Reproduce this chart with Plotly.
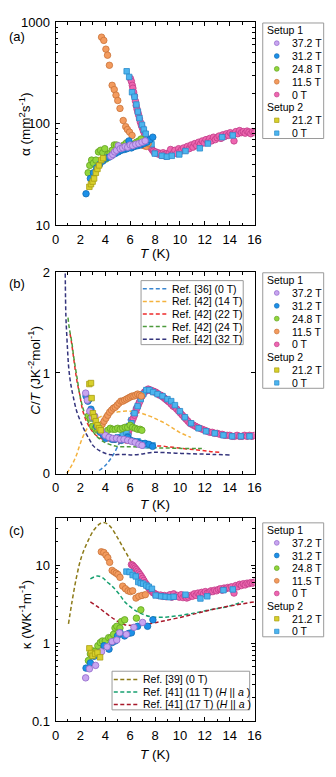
import plotly.graph_objects as go

W, H = 336, 777
def fx(p): return p / W
def fy(p): return 1 - p / H

# ---------------- Panel (a): thermal diffusivity alpha (mm^2/s) ----------------
T_a_372 = [4.45, 4.6, 4.75, 4.9, 5.05, 5.2, 5.4, 5.6, 5.8, 6.0, 6.2, 6.45, 6.7, 6.95, 7.2]
a_372 = [48, 50, 53, 55, 61, 57, 58, 60, 59, 62, 61, 63, 64, 66, 68]
T_a_312 = [2.45, 2.8, 3.05, 3.3, 3.55, 3.8, 4.05, 4.3, 4.55, 4.8, 5.05, 5.3, 5.55, 5.75, 5.9, 6.1, 6.35, 6.6, 6.85, 7.1, 7.35, 7.6, 7.82]
a_312 = [20.5, 29, 33, 37, 40, 43, 46, 47, 49, 51, 53, 55, 56, 57, 68, 58, 60, 61, 62, 64, 66, 70, 74]
T_a_248 = [2.62, 2.75, 2.9, 3.05, 3.25, 3.45, 3.62, 3.8, 3.96, 4.05, 4.2, 4.38, 4.55, 4.72, 4.9, 5.05, 5.2, 5.35, 5.5, 5.7, 5.9, 6.1, 6.3, 6.5, 6.7, 6.88]
a_248 = [33, 39, 44, 41, 44, 53, 55, 52, 57, 45, 50, 51, 55, 62, 62, 56, 55, 58, 62, 65, 61, 60, 63, 66, 68, 71]
T_a_115 = [3.7, 3.88, 4.05, 4.18, 4.33, 4.55, 4.72, 4.86, 5.0, 5.18, 5.44, 5.64, 5.78, 5.95, 6.15, 6.3, 6.5, 6.7, 6.9, 7.1, 7.3, 7.45]
a_115 = [715, 665, 545, 475, 378, 240, 218, 192, 170, 142, 108, 94, 88, 83, 77, 60, 62, 64, 63, 61, 60, 64]
T_a_0 = [6.02, 6.1, 6.17, 6.22, 6.28, 6.35, 6.42, 6.48, 6.55, 6.62, 6.68, 6.75, 6.82, 6.9, 6.97,
         7.05, 7.12, 7.2, 7.28, 7.35, 7.42, 7.5, 7.58, 7.65, 7.72, 7.8, 7.88, 7.95, 8.05, 8.15,
         8.25, 8.35, 8.45, 8.55, 8.65, 8.75, 8.85, 8.95, 9.05, 9.15, 9.25, 9.35, 9.5, 9.6, 9.75,
         9.9, 10.0, 10.15, 10.3, 10.45, 10.6, 10.75, 10.9, 11.05, 11.2, 11.35, 11.5, 11.65, 11.8,
         11.95, 12.1, 12.25, 12.4, 12.55, 12.7, 12.85, 13.0, 13.15, 13.3, 13.45, 13.6, 13.75,
         13.9, 14.05, 14.2, 14.35, 14.5, 14.65, 14.8, 14.95, 15.1, 15.25, 15.4, 15.55, 15.7,
         15.85, 16.0]
a_0 = [280, 262, 240, 225, 205, 188, 168, 152, 140, 130, 122, 112, 104, 97, 92,
       86, 82, 78, 74, 71, 68, 65, 62, 59, 57, 55, 54, 52, 53, 51,
       52, 50, 51, 49, 52, 50, 48, 51, 49, 52, 56, 50, 52, 55, 51,
       57, 53, 56, 58, 55, 60, 57, 62, 59, 64, 61, 66, 63, 68,
       65, 70, 67, 72, 68, 74, 70, 73, 76, 72, 78, 75, 80,
       77, 82, 79, 68, 84, 80, 86, 82, 84, 81, 85, 83, 80,
       84, 82]
T_a_212 = [2.72, 2.85, 2.98, 3.1, 3.24, 3.37, 3.5, 3.68, 3.83]
a_212 = [24, 25.5, 27, 29, 33, 36, 39, 44, 46]
T_a_0s = [5.72, 5.92, 6.15, 6.35, 6.5, 6.62, 6.75, 6.95, 7.1, 7.25, 7.42, 7.55, 7.72, 7.98, 8.55,
          8.95, 9.35, 9.95, 10.45, 11.6, 12.25, 13.4, 14.25]
a_0s = [330, 290, 205, 185, 155, 132, 114, 98, 88, 80, 70, 66, 63, 51, 48.5,
        47.5, 48.5, 50, 54, 57.5, 64, 74, 77]

# ---------------- Panel (b): C/T (J K^-2 mol^-1) ----------------
T_b_372 = [2.42, 2.55, 2.75, 2.95, 3.15, 3.4, 3.7, 4.0, 4.3, 4.6, 4.9, 5.2, 5.5, 5.8, 6.1, 6.4, 6.7, 6.95]
b_372 = [0.80, 0.73, 0.62, 0.56, 0.57, 0.47, 0.42, 0.38, 0.36, 0.35, 0.35, 0.34, 0.34, 0.33, 0.32, 0.31, 0.29, 0.28]
T_b_312 = [2.45, 2.6, 2.7, 2.85, 3.05, 3.3, 3.6, 3.85, 4.05, 4.3, 4.55, 4.8, 5.05, 5.3, 5.55, 5.8,
           6.05, 6.3, 6.6, 6.9, 7.2, 7.5, 7.8]
b_312 = [0.77, 0.72, 0.74, 0.64, 0.55, 0.47, 0.41, 0.38, 0.35, 0.36, 0.34, 0.34, 0.35, 0.33, 0.34, 0.36,
         0.33, 0.32, 0.31, 0.30, 0.30, 0.29, 0.27]
T_b_248 = [2.64, 2.8, 2.98, 3.2, 3.4, 3.6, 3.8, 4.0, 4.2, 4.4, 4.6, 4.8, 5.0, 5.2, 5.4, 5.6, 5.8,
           6.0, 6.2, 6.4, 6.6, 6.8, 6.94]
b_248 = [0.57, 0.55, 0.47, 0.45, 0.43, 0.42, 0.40, 0.41, 0.43, 0.45, 0.44, 0.44, 0.45, 0.44, 0.45, 0.46, 0.46,
         0.48, 0.46, 0.45, 0.44, 0.44, 0.43]
T_b_115 = [3.62, 3.75, 3.9, 4.05, 4.2, 4.35, 4.5, 4.65, 4.8, 4.95, 5.1, 5.25, 5.4, 5.55, 5.7, 5.85,
           6.0, 6.15, 6.3, 6.45, 6.6, 6.75, 6.9]
b_115 = [0.45, 0.49, 0.52, 0.55, 0.58, 0.61, 0.63, 0.65, 0.66, 0.68, 0.70, 0.72, 0.72, 0.73, 0.74, 0.75,
         0.76, 0.77, 0.77, 0.78, 0.79, 0.78, 0.77]
T_b_0 = [5.75, 5.85, 5.95, 6.05, 6.15, 6.25, 6.35, 6.45, 6.55, 6.65, 6.75, 6.85, 6.95, 7.05, 7.15, 7.25,
         7.35, 7.45, 7.55, 7.65,
         7.75, 7.85, 7.95, 8.05, 8.15, 8.25, 8.35, 8.45, 8.55, 8.65, 8.75, 8.85, 8.95, 9.05, 9.15,
         9.3, 9.45, 9.6, 9.75, 9.9, 10.05, 10.2, 10.35, 10.5, 10.65, 10.8, 10.95, 11.1, 11.25, 11.4,
         11.6, 11.8, 12.0, 12.2, 12.4, 12.6, 12.8, 13.0, 13.2, 13.4, 13.6, 13.8, 14.0, 14.2, 14.4,
         14.6, 14.8, 15.0, 15.2, 15.4, 15.6, 15.8, 16.0]
b_0 = [0.36, 0.40, 0.44, 0.48, 0.52, 0.55, 0.58, 0.62, 0.65, 0.68, 0.71, 0.75, 0.77, 0.79, 0.81, 0.82,
       0.83, 0.84, 0.83, 0.83,
       0.82, 0.82, 0.81, 0.81, 0.80, 0.79, 0.78, 0.78, 0.77, 0.76, 0.75, 0.74, 0.73, 0.72, 0.71,
       0.69, 0.67, 0.66, 0.64, 0.62, 0.60, 0.58, 0.56, 0.54, 0.52, 0.50, 0.49, 0.48, 0.47, 0.46,
       0.45, 0.44, 0.43, 0.42, 0.41, 0.41, 0.40, 0.40, 0.39, 0.39, 0.38, 0.38, 0.38, 0.37, 0.37,
       0.38, 0.37, 0.37, 0.38, 0.37, 0.38, 0.37, 0.38]
T_b_212 = [2.72, 2.85, 2.9, 3.0, 3.1, 3.24, 3.37, 3.5, 3.63]
b_212 = [0.89, 0.90, 0.75, 0.60, 0.56, 0.52, 0.48, 0.45, 0.43]
T_b_0s = [3.9, 4.2, 4.6, 5.0, 5.4, 5.7, 5.85, 6.6, 7.25, 7.8, 6.1, 6.35, 6.6, 6.85, 7.05, 7.3, 7.55,
          7.85, 8.2, 8.6, 9.0, 9.3, 9.6, 10.0, 10.4, 10.9, 11.5, 12.1, 12.8, 13.5, 14.2, 14.9, 15.6]
b_0s = [0.38, 0.36, 0.35, 0.36, 0.38, 0.41, 0.37, 0.32, 0.28, 0.28, 0.50, 0.60, 0.67, 0.74, 0.79, 0.83, 0.83,
        0.81, 0.79, 0.77, 0.74, 0.72, 0.68, 0.62, 0.56, 0.50, 0.45, 0.42, 0.40, 0.38, 0.37, 0.37, 0.37]

# reference curves (b)
T_r36 = [3.5, 4.0, 4.5, 5.0, 5.45, 5.9, 6.3, 6.7, 7.1, 7.5, 7.9, 8.4, 9.0, 9.6, 10.2, 10.8, 11.5, 12.3, 13.2, 14.2, 15.2, 16.0]
r36 = [0.03, 0.08, 0.16, 0.27, 0.40, 0.55, 0.66, 0.75, 0.81, 0.83, 0.82, 0.78, 0.72, 0.65, 0.58, 0.51, 0.46, 0.42, 0.40, 0.38, 0.37, 0.37]
T_r42_14 = [0.9, 1.15, 1.42, 1.7, 1.94, 2.25, 2.6, 3.0, 3.37, 3.9, 4.4, 4.9, 5.44, 6.0, 6.48, 6.9, 7.25,
            7.8, 8.3, 8.8, 9.33, 9.97, 10.88]
r42_14 = [0.0, 0.05, 0.11, 0.19, 0.28, 0.38, 0.46, 0.52, 0.55, 0.58, 0.60, 0.61, 0.62, 0.62, 0.615, 0.60,
          0.585, 0.56, 0.53, 0.50, 0.46, 0.41, 0.36]
T_r42_22 = [1.17, 1.3, 1.42, 1.55, 1.68, 1.8, 1.94, 2.2, 2.6, 3.1, 3.63, 4.66, 6.22, 7.5, 8.8, 10.1, 11.4, 12.4, 13.26]
r42_22 = [1.39, 1.29, 1.18, 1.06, 0.95, 0.87, 0.79, 0.62, 0.49, 0.40, 0.35, 0.315, 0.30, 0.28, 0.27, 0.25, 0.235, 0.22, 0.21]
T_r42_24 = [1.0, 1.1, 1.3, 1.45, 1.6, 1.77, 1.94, 2.28, 2.72, 3.24, 3.89, 4.92, 6.22, 7.5, 8.8, 10.1, 11.4, 12.0]
r42_24 = [1.55, 1.45, 1.31, 1.17, 1.05, 0.92, 0.79, 0.62, 0.49, 0.38, 0.315, 0.27, 0.267, 0.257, 0.254, 0.25, 0.25, 0.25]
T_r42_32 = [0.78, 0.83, 0.9, 0.97, 1.04, 1.15, 1.28, 1.43, 1.7, 2.07, 2.4, 2.72, 3.0, 3.5, 4.3, 5.44, 6.22,
            7.0, 7.77, 8.8, 10.1, 11.4, 12.7, 14.0]
r42_32 = [1.99, 1.57, 1.38, 1.22, 1.08, 0.95, 0.85, 0.76, 0.62, 0.50, 0.41, 0.34, 0.28, 0.23, 0.19, 0.19, 0.185,
          0.195, 0.21, 0.208, 0.20, 0.195, 0.19, 0.185]

# ---------------- Panel (c): thermal conductivity kappa (W K^-1 m^-1) ----------------
T_c_372 = [2.42, 2.72, 3.22, 3.7, 4.15, 4.55, 4.92, 5.15, 5.7, 6.3, 7.0]
c_372 = [0.36, 0.47, 0.52, 0.78, 0.9, 1.05, 1.1, 1.36, 1.3, 1.6, 1.85]
T_c_312 = [2.45, 2.8, 3.1, 3.5, 3.9, 4.3, 4.55, 4.8, 4.98, 5.2, 5.55, 5.9, 6.1, 6.6, 7.4, 7.83]
c_312 = [0.48, 0.56, 0.68, 0.76, 0.93, 0.84, 1.02, 1.07, 1.24, 1.36, 1.24, 1.34, 1.36, 1.65, 1.65, 2.0]
T_c_248 = [2.64, 2.8, 2.98, 3.2, 3.4, 3.6, 3.76, 4.0, 4.27, 4.45, 4.66, 4.78, 4.92, 5.18, 5.3, 5.56, 6.5, 6.86]
c_248 = [0.60, 0.73, 0.80, 0.79, 0.93, 1.02, 1.07, 1.07, 1.18, 1.18, 1.30, 1.57, 1.65, 1.57, 1.90, 2.0, 2.1, 2.68]
T_c_115 = [3.68, 3.88, 4.05, 4.2, 4.35, 4.55, 4.72, 4.88, 5.02, 5.18, 5.4, 5.62, 5.83, 6.02, 6.2, 6.47, 6.7, 6.95, 7.22]
c_115 = [14.9, 14.6, 13.5, 12.5, 10.9, 8.6, 8.2, 7.9, 7.6, 7.0, 5.4, 5.0, 4.7, 4.6, 4.7, 3.8, 4.0, 4.1, 4.2]
T_c_0 = [6.1, 6.2, 6.3, 6.4, 6.5, 6.6, 6.7, 6.8, 6.9, 7.0, 7.1, 7.2, 7.3, 7.4, 7.5, 7.6, 7.7, 7.8, 7.9,
         8.0, 8.15, 8.3, 8.45, 8.6, 8.75, 8.9, 9.05, 9.2, 9.35, 9.5, 9.65, 9.8, 9.95, 10.1, 10.25, 10.4,
         10.55, 10.7, 10.85, 11.0, 11.15, 11.3, 11.45, 11.6, 11.75, 11.9, 12.05, 12.2, 12.35, 12.5, 12.65,
         12.8, 12.95, 13.1, 13.25, 13.4, 13.55, 13.7, 13.85, 14.0, 14.15, 14.35, 14.5, 14.65, 14.8, 14.95,
         15.1, 15.25, 15.4, 15.55, 15.7, 15.85, 16.0]
c_0 = [10.2, 10.0, 9.6, 9.2, 8.8, 8.4, 8.0, 7.6, 7.2, 6.8, 6.4, 6.0, 5.7, 5.4, 5.1, 4.9, 4.7, 4.5, 4.4,
       4.3, 4.2, 4.1, 4.15, 4.0, 4.1, 3.95, 4.05, 4.2, 3.9, 4.3, 4.0, 4.1, 3.9, 4.2, 3.85, 4.0,
       3.8, 3.9, 4.1, 4.0, 4.3, 4.1, 4.4, 4.2, 4.5, 4.3, 4.6, 4.4, 4.5, 4.7, 4.6,
       4.8, 4.7, 4.9, 5.0, 4.8, 5.1, 5.0, 5.2, 5.1, 5.3, 4.4, 5.5, 5.3, 5.7, 5.5,
       5.8, 5.6, 5.9, 5.8, 6.0, 5.9, 6.1]
T_c_212 = [2.72, 2.85, 2.98, 3.18, 3.37, 3.58]
c_212 = [0.86, 0.75, 0.69, 0.73, 0.76, 0.66]
T_c_0s = [5.7, 5.95, 6.2, 6.45, 6.65, 6.85, 7.05, 7.3, 7.5, 7.75, 8.05, 8.5, 8.85, 9.2, 9.5, 10.45, 11.65, 12.2, 13.5, 14.25]
c_0s = [8.3, 8.2, 7.5, 7.2, 6.1, 5.9, 5.8, 5.5, 5.3, 5.0, 4.1, 4.0, 3.95, 3.9, 3.95, 4.2, 3.75, 4.0, 4.8, 4.9]

# reference curves (c)
T_r39 = [1.04, 1.3, 1.68, 2.07, 2.6, 3.1, 3.63, 4.0, 4.4, 4.92, 5.44, 5.96, 6.48, 7.0, 7.5, 8.03, 8.8, 10.1, 11.4, 12.7, 14.0, 15.9]
r39 = [1.77, 3.24, 7.0, 12.6, 20.4, 28.5, 34.6, 35.0, 31.4, 23.5, 16.7, 12.0, 8.5, 6.4, 5.25, 4.55, 4.13, 4.0, 4.13, 4.55, 5.0, 5.8]
T_r41_11 = [2.8, 3.1, 3.4, 3.8, 4.15, 4.5, 4.8, 5.2, 5.56, 5.95, 6.34, 6.9, 7.6, 8.3, 9.0, 9.8, 10.9, 12.4, 14.0, 15.1]
r41_11 = [6.7, 7.1, 7.3, 6.9, 6.1, 5.5, 4.9, 4.1, 3.4, 3.0, 2.68, 2.4, 2.2, 2.15, 2.17, 2.25, 2.4, 2.68, 3.0, 3.45]
T_r41_17 = [2.8, 3.37, 3.88, 4.79, 5.56, 6.6, 7.9, 8.8, 10.1, 11.4, 12.7, 14.0, 16.0]
r41_17 = [3.4, 2.95, 2.55, 2.0, 1.73, 1.7, 1.82, 1.95, 2.16, 2.43, 2.73, 3.0, 3.4]

setup1_labels = ["37.2 T", "31.2 T", "24.8 T", "11.5 T", "0 T"]
setup2_labels = ["21.2 T", "0 T"]
refs_b_labels = ["Ref. [36] (0 T)", "Ref. [42] (14 T)", "Ref. [42] (22 T)", "Ref. [42] (24 T)", "Ref. [42] (32 T)"]
refs_c_labels = ["Ref. [39] (0 T)", "Ref. [41] (11 T) (<i>H</i> || <i>a</i> )", "Ref. [41] (17 T) (<i>H</i> || <i>a</i> )"]

# ---------------- styles ----------------
STY = {
    "372": dict(symbol="circle", fill="#c8a5f0", edge="#8f66c9", size=6.5),
    "312": dict(symbol="circle", fill="#1c90e8", edge="#106cb5", size=6.5),
    "248": dict(symbol="circle", fill="#92d63c", edge="#62a222", size=6.5),
    "115": dict(symbol="circle", fill="#f39b5e", edge="#c97238", size=6.5),
    "0":   dict(symbol="circle", fill="#ee66b0", edge="#c03c88", size=6.5),
    "212": dict(symbol="square", fill="#d8d02c", edge="#a89e12", size=5.5),
    "0s":  dict(symbol="square", fill="#4db4ee", edge="#2a8ccb", size=5.5),
}
REFB_COL = ["#3a86d0", "#f4b23e", "#ee2b2b", "#4d9a3c", "#34347c"]
REFC_COL = ["#8c7a18", "#17a070", "#a8182a"]
DASH = "4px,2.5px"
FONT = "Arial, 'Liberation Sans', Helvetica, sans-serif"

fig = go.Figure()

def add_pts(T, v, key, ax):
    st = STY[key]
    fig.add_trace(go.Scatter(
        x=T, y=v, mode="markers", xaxis="x" + ax, yaxis="y" + ax,
        marker=dict(symbol=st["symbol"], size=st["size"], color=st["fill"],
                    line=dict(color=st["edge"], width=0.8)),
        showlegend=False, hoverinfo="skip"))

def add_line(T, v, color, ax):
    fig.add_trace(go.Scatter(
        x=T, y=v, mode="lines", xaxis="x" + ax, yaxis="y" + ax,
        line=dict(color=color, width=1.5, dash=DASH, shape="spline"),
        showlegend=False, hoverinfo="skip"))

# panel (a)
add_pts(T_a_0, a_0, "0", "")
add_pts(T_a_0s, a_0s, "0s", "")
add_pts(T_a_115, a_115, "115", "")
add_pts(T_a_248, a_248, "248", "")
add_pts(T_a_312, a_312, "312", "")
add_pts(T_a_372, a_372, "372", "")
add_pts(T_a_212, a_212, "212", "")

# panel (b)
for (T, v), c in zip([(T_r36, r36), (T_r42_14, r42_14), (T_r42_22, r42_22), (T_r42_24, r42_24), (T_r42_32, r42_32)], REFB_COL):
    add_line(T, v, c, "2")
add_pts(T_b_0, b_0, "0", "2")
add_pts(T_b_0s, b_0s, "0s", "2")
add_pts(T_b_115, b_115, "115", "2")
add_pts(T_b_248, b_248, "248", "2")
add_pts(T_b_312, b_312, "312", "2")
add_pts(T_b_372, b_372, "372", "2")
add_pts(T_b_212, b_212, "212", "2")

# panel (c)
for (T, v), c in zip([(T_r39, r39), (T_r41_11, r41_11), (T_r41_17, r41_17)], REFC_COL):
    add_line(T, v, c, "3")
add_pts(T_c_0, c_0, "0", "3")
add_pts(T_c_0s, c_0s, "0s", "3")
add_pts(T_c_115, c_115, "115", "3")
add_pts(T_c_248, c_248, "248", "3")
add_pts(T_c_312, c_312, "312", "3")
add_pts(T_c_372, c_372, "372", "3")
add_pts(T_c_212, c_212, "212", "3")

# ---------------- axes ----------------
X0, X1 = 53.3, 259.0
PANELS = {"": (15.7, 222.7), "2": (270.7, 475.7), "3": (521.4, 728.3)}

def xaxis(anchor, top, bot):
    return dict(domain=[fx(X0), fx(X1)], anchor=anchor, range=[0, 16], dtick=2, tick0=0,
                ticks="inside", ticklen=4, tickwidth=1, tickcolor="black",
                showline=True, linecolor="black", linewidth=1, mirror="allticks",
                showgrid=False, zeroline=False, ticklabelstandoff=2,
                minor=dict(dtick=1, ticks="inside", ticklen=2.5, tickcolor="black", showgrid=False),
                tickfont=dict(size=13, color="black", family=FONT))

def yaxis_common(anchor, top, bot):
    return dict(domain=[fy(bot), fy(top)], anchor=anchor,
                ticks="inside", ticklen=4, tickwidth=1, tickcolor="black",
                showline=True, linecolor="black", linewidth=1, mirror="allticks",
                showgrid=False, zeroline=False, ticklabelstandoff=2,
                tickfont=dict(size=13, color="black", family=FONT))

minor_log_a = [m * 10 ** e for e in (1, 2) for m in range(2, 10)]
minor_log_c = [m * 10 ** e for e in (-1, 0, 1) for m in range(2, 10)]

ya = yaxis_common("x", *PANELS[""])
ya.update(type="log", range=[1, 3], tickvals=[10, 100, 1000], ticktext=["10", "100", "1000"],
          minor=dict(tickvals=minor_log_a, ticks="inside", ticklen=2.5, tickcolor="black", showgrid=False))
yb = yaxis_common("x2", *PANELS["2"])
yb.update(range=[0, 2], tickvals=[0, 1, 2], ticktext=["0", "1", "2"])
yc = yaxis_common("x3", *PANELS["3"])
yc.update(type="log", range=[-1, 1.6021], tickvals=[0.1, 1, 10], ticktext=["0.1", "1", "10"],
          minor=dict(tickvals=minor_log_c, ticks="inside", ticklen=2.5, tickcolor="black", showgrid=False))

# ---------------- annotations & legend shapes ----------------
ann = []
shapes = []

def text(x, y, s, size=13, xanchor="center", angle=0):
    ann.append(dict(x=fx(x), y=fy(y), xref="paper", yref="paper", text=s, showarrow=False,
                    xanchor=xanchor, yanchor="middle", textangle=angle,
                    font=dict(size=size, color="black", family=FONT)))

for lab, yy in [("(a)", 30), ("(b)", 282), ("(c)", 534)]:
    text(13, yy, lab, 13)
for yy in [251, 507, 762]:
    text(156, yy, "<i>T</i> (K)", 13.5)
text(21, 120, "α (mm<sup>2</sup>s<sup>-1</sup>)", 13.5, angle=-90)
text(31, 370, "<i>C</i>/<i>T</i> (JK<sup>-2</sup>mol<sup>-1</sup>)", 13.5, angle=-90)
text(22, 620, "κ (WK<sup>-1</sup>m<sup>-1</sup>)", 13.5, angle=-90)

def marker_shape(x, y, key, r=2.4):
    st = STY[key]
    shapes.append(dict(type="circle" if st["symbol"] == "circle" else "rect",
                       xref="paper", yref="paper", xsizemode="pixel", ysizemode="pixel",
                       xanchor=fx(x), yanchor=fy(y), x0=-r, x1=r, y0=-r, y1=r,
                       fillcolor=st["fill"], line=dict(color=st["edge"], width=0.7)))

def right_legend(top, step=13.1):
    shapes.append(dict(type="rect", xref="paper", yref="paper", x0=fx(267.5), x1=fx(330.5),
                       y0=fy(top + 8 * step + 13), y1=fy(top), fillcolor="white",
                       line=dict(color="#9a9a9a", width=1), layer="above"))
    rows = [top + 7.5 + step * i for i in range(9)]
    text(270, rows[0], "Setup 1", 10.5, xanchor="left")
    for lab, key, yy in zip(setup1_labels, ["372", "312", "248", "115", "0"], rows[1:6]):
        marker_shape(282, yy, key)
        text(296, yy, lab, 10.5, xanchor="left")
    text(270, rows[6], "Setup 2", 10.5, xanchor="left")
    for lab, key, yy in zip(setup2_labels, ["212", "0s"], rows[7:9]):
        marker_shape(282, yy, key, r=2.2)
        text(296, yy, lab, 10.5, xanchor="left")

right_legend(16.3)
right_legend(271.0)
right_legend(526.0, step=12.9)

def inner_legend(x0, x1, y0, y1, rows, labels, colors, lx0, lx1, tx):
    shapes.append(dict(type="rect", xref="paper", yref="paper", x0=fx(x0), x1=fx(x1),
                       y0=fy(y1), y1=fy(y0), fillcolor="white",
                       line=dict(color="#9a9a9a", width=1), layer="above"))
    for yy, lab, c in zip(rows, labels, colors):
        shapes.append(dict(type="line", xref="paper", yref="paper", x0=fx(lx0), x1=fx(lx1),
                           y0=fy(yy), y1=fy(yy), line=dict(color=c, width=1.5, dash=DASH), layer="above"))
        text(tx, yy, lab, 10.5, xanchor="left")

inner_legend(141.7, 247.3, 279.0, 344.3, [287.3, 300.2, 313.0, 325.9, 338.8], refs_b_labels, REFB_COL,
             143.5, 168.5, 171.5)
inner_legend(111.7, 254.0, 677.3, 716.7, [685.7, 698.4, 711.2], refs_c_labels, REFC_COL,
             113.5, 138.5, 141.5)

fig.update_layout(
    width=W, height=H, autosize=False,
    margin=dict(l=0, r=0, t=0, b=0, pad=0),
    paper_bgcolor="white", plot_bgcolor="white",
    font=dict(family=FONT, color="black"),
    showlegend=False,
    xaxis=xaxis("y", *PANELS[""]), yaxis=ya,
    xaxis2=xaxis("y2", *PANELS["2"]), yaxis2=yb,
    xaxis3=xaxis("y3", *PANELS["3"]), yaxis3=yc,
    annotations=ann, shapes=shapes,
)

fig.write_html("out.html", include_plotlyjs=True, config={"displayModeBar": False},
               post_script="document.body.style.margin='0';document.body.style.overflow='hidden';")
